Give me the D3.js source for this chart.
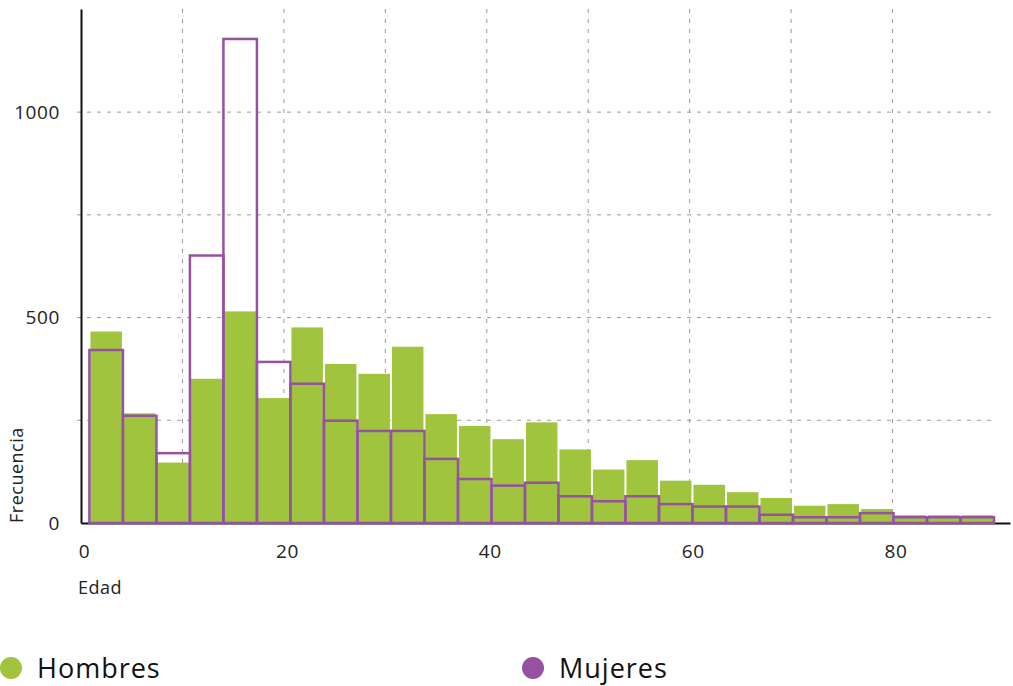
<!DOCTYPE html>
<html>
<head>
	<title>Edad por sexo</title>
	<script src="https://d3js.org/d3.v7.min.js"></script>
	<style>
		body{
			margin: 0;
			background: #fff;
			font-family: "Open Sans", Lato, sans-serif;
		}
		svg{
			display: block;
		}
		.tick text{
			font-family: "Open Sans", sans-serif;
			font-size: 19px;
			letter-spacing: 0.6px;
			fill: #222;
		}
	</style>
</head>
<body>
	<script>
		// histogram bins (age), 27 bins from 0.83 to 90
		var binStart = 0.83
		var binEnd = 90
		var binCount = 27
		var hombres = [466, 267, 147, 351, 515, 304, 476, 387, 363, 429, 265, 236, 204, 245, 179, 130, 153, 103, 93, 75, 61, 42, 46, 34, 19, 19, 19]
		var mujeres = [421, 261, 170, 651, 1178, 392, 339, 249, 224, 224, 156, 107, 91, 98, 65, 53, 65, 46, 40, 40, 20, 14, 14, 24, 14, 14, 14]
		var xTicks = [0, 20, 40, 60, 80]
		var xGrid = [10, 20, 30, 40, 50, 60, 70, 80]
		var yTicks = [0, 500, 1000]
		var yGrid = [250, 500, 750, 1000]
		var seriesNames = ['Hombres', 'Mujeres']
		var colors = ['#a0c43e', '#9452a0']

		var W = 1013, H = 686
		var margin = {top: 9, right: 3, bottom: 163, left: 81}

		var svg = d3.select('body').append('svg')
					.attr('width', W)
					.attr('height', H)

		var x = d3.scaleLinear().domain([0, 91.58]).range([margin.left, W - margin.right])
		var y = d3.scaleLinear().domain([0, 1251]).range([H - margin.bottom, margin.top])

		var step = (binEnd - binStart) / binCount
		var bins = hombres.map(function(v, i){
			return {x0: binStart + i*step, x1: binStart + (i+1)*step, h: v, m: mujeres[i]}
		})

		// grid
		svg.append('g').selectAll('line').data(xGrid).enter()
		   .append('line')
		   .attr('x1', d=> x(d)).attr('x2', d=> x(d))
		   .attr('y1', y(1251)).attr('y2', y(0))
		   .attr('stroke', '#9a9a9a')
		   .attr('stroke-dasharray', '4,6')
		svg.append('g').selectAll('line').data(yGrid).enter()
		   .append('line')
		   .attr('x1', x(0) - 4).attr('x2', x(90))
		   .attr('y1', d=> y(d)).attr('y2', d=> y(d))
		   .attr('stroke', '#9a9a9a')
		   .attr('stroke-dasharray', '4,6')

		// hombres bars
		svg.append('g').selectAll('rect').data(bins).enter()
		   .append('rect')
		   .attr('x', d=> x(d.x0) + 1)
		   .attr('width', d=> x(d.x1) - x(d.x0) - 2)
		   .attr('y', d=> y(d.h))
		   .attr('height', d=> y(0) - y(d.h))
		   .attr('fill', colors[0])

		// axes
		var xAxis = d3.axisBottom(x).tickValues(xTicks).tickSize(0).tickPadding(22)
		var yAxis = d3.axisLeft(y).tickValues(yTicks).tickSize(0).tickPadding(21).tickFormat(d3.format('d'))
		var gx = svg.append('g')
		   .attr('transform', 'translate(0,' + y(0) + ')')
		   .call(xAxis)
		gx.select('.domain').attr('stroke', '#111').attr('stroke-width', 2)
		gx.selectAll('.tick text').attr('dx', 3)
		var gy = svg.append('g')
		   .attr('transform', 'translate(' + x(0) + ',0)')
		   .call(yAxis)
		gy.select('.domain').attr('stroke', '#111').attr('stroke-width', 2)

		// mujeres outlines
		svg.append('g').selectAll('rect').data(bins).enter()
		   .append('rect')
		   .attr('x', d=> x(d.x0))
		   .attr('width', d=> x(d.x1) - x(d.x0))
		   .attr('y', d=> y(d.m))
		   .attr('height', d=> y(0) - y(d.m))
		   .attr('fill', 'none')
		   .attr('stroke', colors[1])
		   .attr('stroke-width', 2.5)

		// axis titles
		svg.append('text')
		   .attr('transform', 'translate(23,' + y(0) + ') rotate(-90)')
		   .attr('font-size', 18)
		   .attr('letter-spacing', 0.5)
		   .attr('fill', '#222')
		   .text('Frecuencia')
		svg.append('text')
		   .attr('x', 78)
		   .attr('y', 594)
		   .attr('font-size', 18)
		   .attr('letter-spacing', 0.5)
		   .attr('fill', '#222')
		   .text('Edad')

		// legend
		var legend = svg.append('g')
		var items = legend.selectAll('g').data(seriesNames).enter()
						  .append('g')
						  .attr('transform', (d, i)=> 'translate(' + (i*522) + ',668)')
		items.append('circle')
			 .attr('cx', 11)
			 .attr('cy', 0)
			 .attr('r', 11)
			 .attr('fill', (d, i)=> colors[i])
		items.append('text')
			 .attr('x', 37)
			 .attr('y', 10)
			 .attr('font-size', 27)
			 .attr('letter-spacing', 1)
			 .attr('fill', '#111')
			 .text(d=> d)
	</script>
</body>
</html>
